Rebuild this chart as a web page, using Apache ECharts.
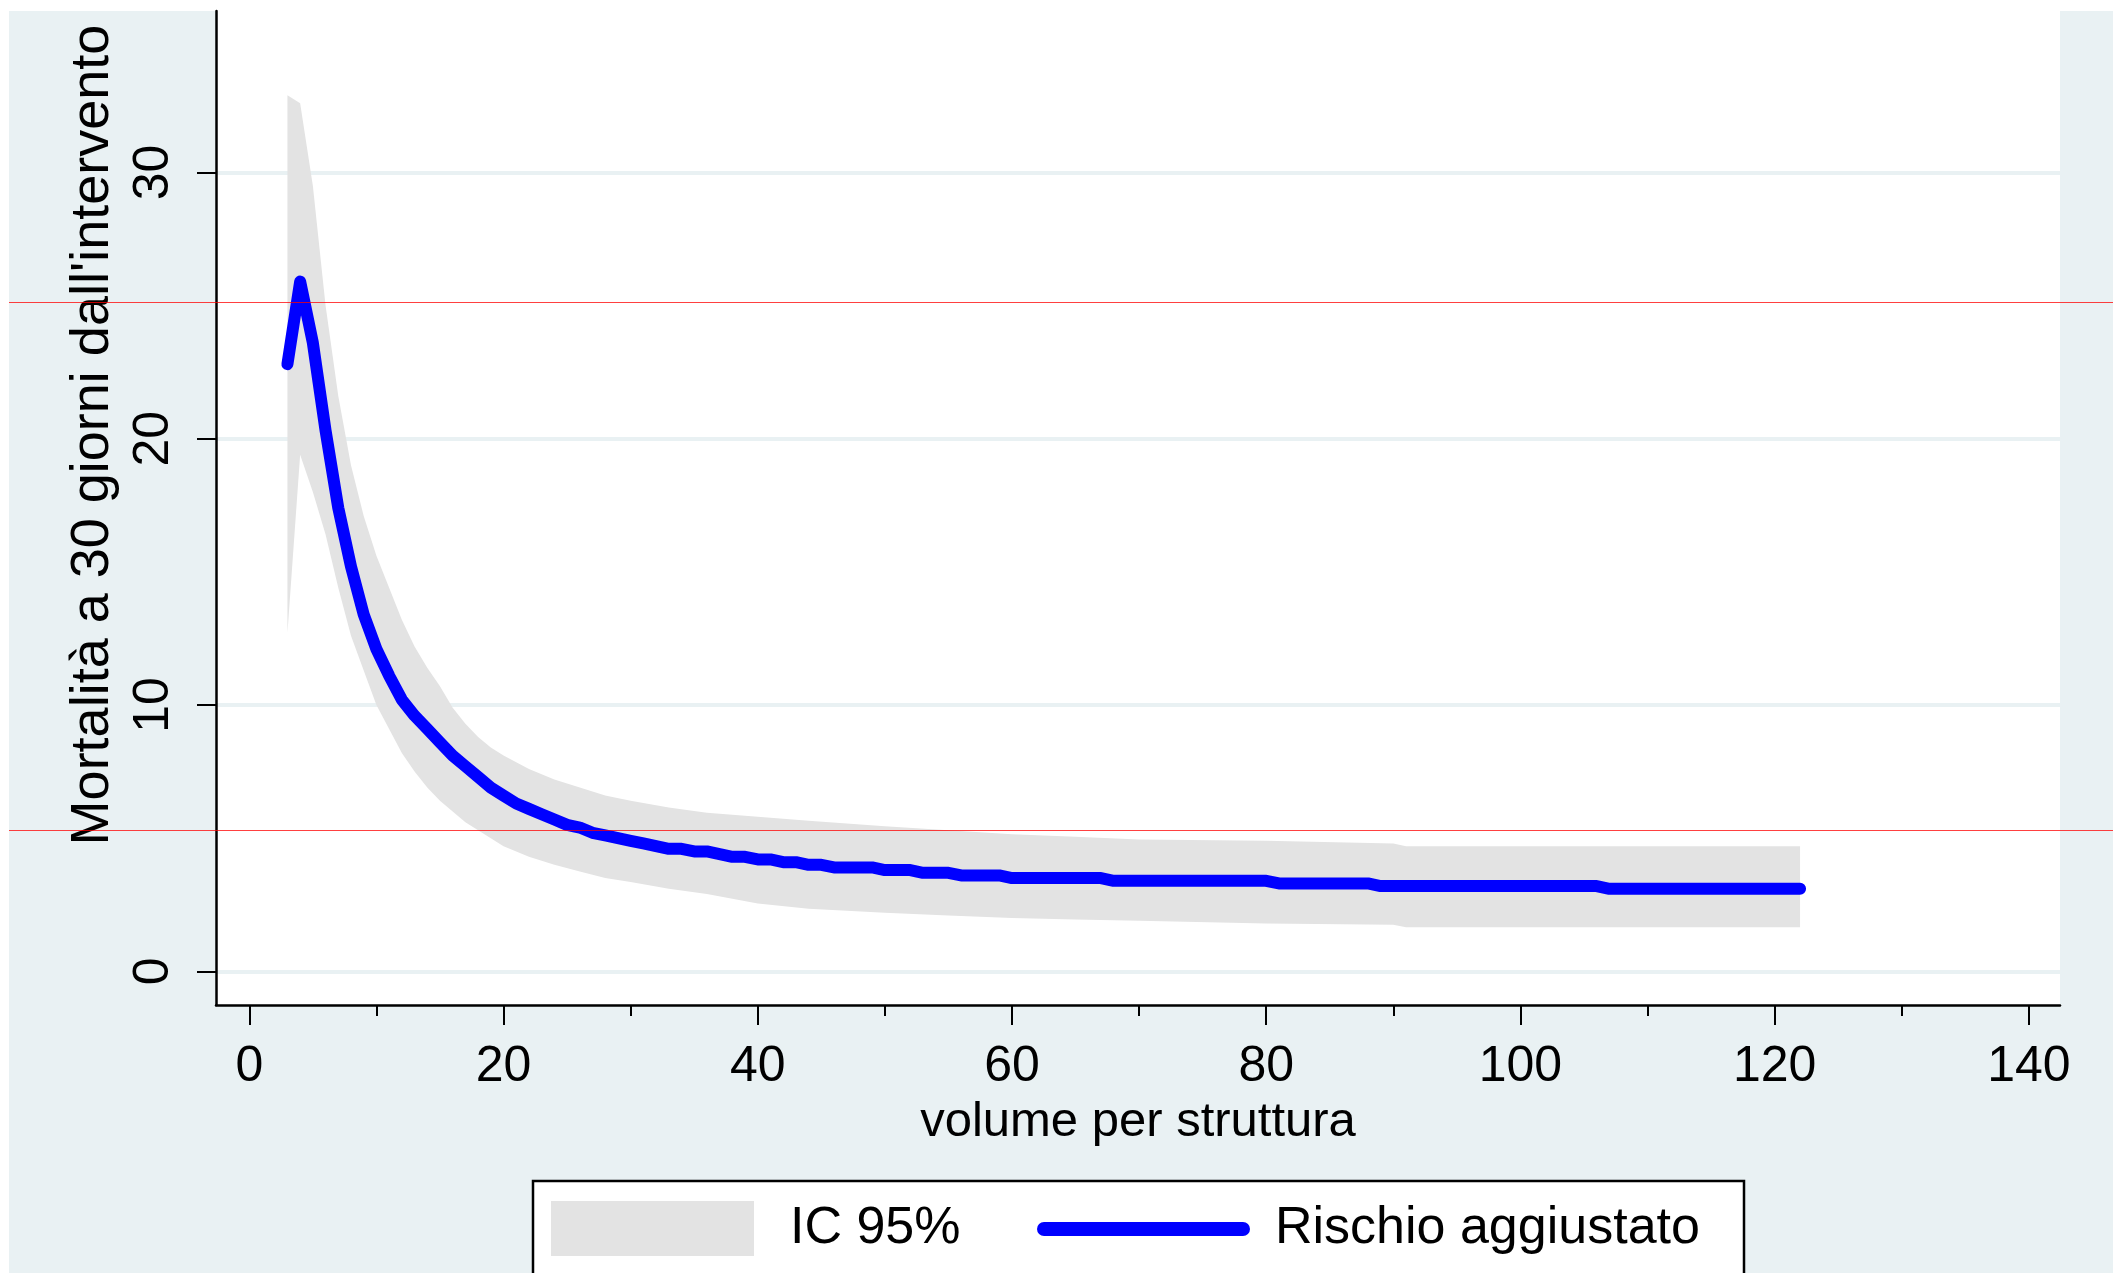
<!DOCTYPE html>
<html>
<head>
<meta charset="utf-8">
<script src="https://cdn.jsdelivr.net/npm/echarts@6/dist/echarts.min.js"></script>
<style>
html,body{margin:0;padding:0;background:#ffffff;}
#c{width:2113px;height:1273px;}
</style>
</head>
<body>
<div id="c"></div>
<script>
// ---------- data ----------
const lineX = [3,4,5,6,7,8,9,10,11,12,13,14,15,16,17,18,19,20,21,22,23,24,25,26,27,28,29,30,31,32,33,34,35,36,37,38,39,40,41,42,43,44,45,46,49,50,52,53,55,56,59,60,67,68,80,81,88,89,106,107,122];
const lineY = [22.8,25.9,23.6,20.3,17.4,15.2,13.4,12.1,11.1,10.2,9.6,9.1,8.6,8.1,7.7,7.3,6.9,6.6,6.3,6.1,5.9,5.7,5.5,5.4,5.2,5.1,5.0,4.9,4.8,4.7,4.6,4.6,4.5,4.5,4.4,4.3,4.3,4.2,4.2,4.1,4.1,4.0,4.0,3.9,3.9,3.8,3.8,3.7,3.7,3.6,3.6,3.5,3.5,3.4,3.4,3.3,3.3,3.2,3.2,3.1,3.1];

const bandX     = [3,4,5,6,7,8,9,10,11,12,13,14,15,16,17,18,19,20,22,24,26,28,30,33,36,40,44,50,55,60,65,70,80,90,91,122];
const bandUpper = [32.9,32.6,29.5,25.0,21.6,19.0,17.1,15.6,14.4,13.2,12.2,11.4,10.7,9.9,9.3,8.8,8.4,8.1,7.6,7.2,6.9,6.6,6.4,6.15,5.95,5.8,5.65,5.45,5.3,5.15,5.05,4.95,4.9,4.8,4.7,4.7];
const bandLower = [12.7,19.4,18.0,16.4,14.4,12.6,11.3,10.0,9.1,8.2,7.5,6.9,6.4,6.0,5.6,5.3,5.0,4.7,4.3,4.0,3.75,3.5,3.35,3.1,2.9,2.55,2.35,2.2,2.1,2.0,1.95,1.9,1.8,1.75,1.65,1.65];

const xTicks = [0,20,40,60,80,100,120,140];
const xMinorTicks = [10,30,50,70,90,110,130];
const yTicks = [0,10,20,30];
const refLines = [25.13, 5.32];

const bandName = 'IC 95%';
const lineName = 'Rischio aggiustato';
const xTitle = 'volume per struttura';
const yTitle = "Mortalità a 30 giorni dall'intervento";

// ---------- chart ----------
const FONT = "'Liberation Sans', Arial, sans-serif";
const BG = '#e9f1f3';
const BAND = '#e3e3e3';
const chart = echarts.init(document.getElementById('c'), null, {renderer: 'canvas'});

const capsule = 'path://M7,0 L206,0 A7,7 0 0 1 206,14 L7,14 A7,7 0 0 1 7,0 Z';

// one row per band vertex: [x, lower, upper]
const bandRows = bandX.map((x, i) => [x, bandLower[i], bandUpper[i]]);

function renderBand(params, api) {
  if (params.dataIndex !== 0) return null;
  const pts = [];
  for (let i = 0; i < bandRows.length; i++) pts.push(api.coord([bandRows[i][0], bandRows[i][2]]));
  for (let i = bandRows.length - 1; i >= 0; i--) pts.push(api.coord([bandRows[i][0], bandRows[i][1]]));
  return {type: 'polygon', shape: {points: pts}, style: {fill: BAND, stroke: null}, silent: true};
}

const xRange = {min: -2.62, max: 142.45};
const option = {
  backgroundColor: BG,
  animation: false,
  grid: {left: 216, right: 53, top: 11, bottom: 268, show: true, backgroundColor: '#ffffff', borderWidth: 0},
  xAxis: [
    {
      type: 'value', min: xRange.min, max: xRange.max, position: 'bottom',
      axisLine: {show: true, onZero: false, lineStyle: {color: '#000', width: 2.5}},
      axisTick: {show: true, customValues: xTicks, length: 20, lineStyle: {color: '#000', width: 2}},
      axisLabel: {customValues: xTicks, margin: 37, fontSize: 50, color: '#000', fontFamily: FONT},
      splitLine: {show: false},
      name: xTitle, nameLocation: 'middle', nameGap: 93,
      nameTextStyle: {fontSize: 49, color: '#000', fontFamily: FONT}
    },
    {
      type: 'value', min: xRange.min, max: xRange.max, position: 'bottom',
      axisLine: {show: false, onZero: false},
      axisTick: {show: true, customValues: xMinorTicks, length: 11, lineStyle: {color: '#000', width: 2}},
      axisLabel: {show: false},
      splitLine: {show: false}
    }
  ],
  yAxis: {
    type: 'value', min: -1.265, max: 36.06,
    axisLine: {show: true, onZero: false, lineStyle: {color: '#000', width: 2.5}},
    axisTick: {show: true, customValues: yTicks, length: 19, lineStyle: {color: '#000', width: 2}},
    axisLabel: {customValues: yTicks, rotate: 90, margin: 37, fontSize: 50, color: '#000', fontFamily: FONT},
    splitLine: {show: true, lineStyle: {color: BG, width: 4}},
    name: yTitle, nameLocation: 'middle', nameGap: 96,
    nameTextStyle: {fontSize: 54, color: '#000', fontFamily: FONT, padding: [0, 0, 0, 146]}
  },
  legend: [
    {
      data: [{name: bandName, icon: 'rect', itemStyle: {color: BAND, borderWidth: 0}}],
      left: 551, top: 1201, padding: 0, itemWidth: 203, itemHeight: 55, selectedMode: false,
      textStyle: {fontSize: 52, color: '#000', fontFamily: FONT, padding: [0, 0, 0, 31]}
    },
    {
      data: [{name: lineName, icon: capsule, itemStyle: {color: '#0000ff', borderWidth: 0}}],
      left: 1037, top: 1203, padding: 0, itemWidth: 213, itemHeight: 14, selectedMode: false,
      textStyle: {fontSize: 52, color: '#000', fontFamily: FONT, padding: [0, 0, 0, 20]}
    }
  ],
  series: [
    {
      name: bandName, type: 'custom', silent: true,
      data: bandRows,
      encode: {x: 0, y: [1, 2]},
      renderItem: renderBand,
      itemStyle: {color: BAND}, z: 2
    },
    {
      name: lineName, type: 'line', symbol: 'none', silent: true,
      data: lineX.map((x, i) => [x, lineY[i]]),
      itemStyle: {color: '#0000ff'},
      lineStyle: {color: '#0000ff', width: 12, cap: 'round', join: 'round'}, z: 3
    }
  ]
};
chart.setOption(option);

// overlay elements: white border strips, legend frame, and red reference lines
const W = 2113, H = 1273;
const elements = [
  {id: 'stripTop', type: 'rect', shape: {x: 0, y: 0, width: W, height: 11}, style: {fill: '#ffffff'}, z: 0, silent: true},
  {id: 'stripLeft', type: 'rect', shape: {x: 0, y: 0, width: 9, height: H}, style: {fill: '#ffffff'}, z: 0, silent: true},
  {id: 'legendBox', type: 'rect', shape: {x: 533, y: 1181, width: 1211, height: 150}, style: {fill: '#ffffff', stroke: '#000', lineWidth: 2.5}, z: 0, silent: true}
];
refLines.forEach((v, i) => {
  const py = Math.round(chart.convertToPixel({yAxisIndex: 0}, v)) + 0.5;
  elements.push({id: 'ref' + i, type: 'line', shape: {x1: 9, y1: py, x2: W, y2: py},
    style: {stroke: 'rgba(255,0,0,0.75)', lineWidth: 1}, z: 100, silent: true});
});
chart.setOption({graphic: {elements: elements}});
</script>
</body>
</html>
